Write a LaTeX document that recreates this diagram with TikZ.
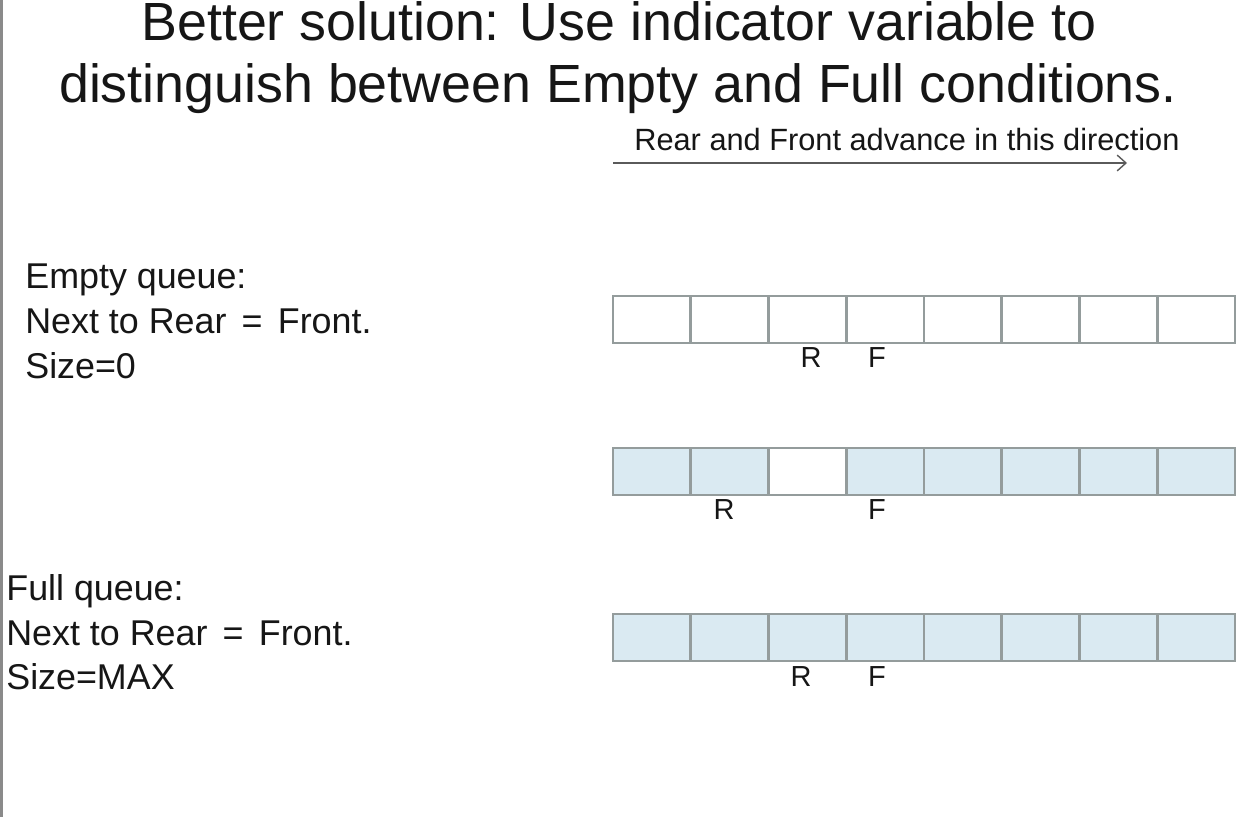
\documentclass[tikz,border=0pt]{standalone}
\usepackage{fontspec}
\setmainfont{Liberation Sans}
\usetikzlibrary{arrows.meta}

\definecolor{cellfill}{HTML}{DAEAF2}
\definecolor{cellline}{HTML}{949C9C}
\definecolor{textdark}{HTML}{161616}
\definecolor{arrowgray}{HTML}{5A5A5A}
\definecolor{edgegray}{HTML}{8A8A8A}

\begin{document}
\begin{tikzpicture}[x=0.02cm, y=-0.02cm]
    \useasboundingbox[fill=white] (0, 0) rectangle (1237, 817);
    \draw[edgegray, line width=1.6pt] (1.5, 0) -- (1.5, 817);
    \begin{scope}[cell/.style={draw=cellline, line width=1.6pt, minimum width=1.555cm, minimum height=0.94cm, inner sep=0, outer sep=0},
                  head/.style={anchor=base, inner sep=0, text=textdark, font=\fontsize{30.6}{36}\selectfont},
                  txt/.style={anchor=base west, inner sep=0, text=textdark, font=\fontsize{20.4}{24}\selectfont},
                  lbl/.style={inner sep=0, text=textdark, font=\fontsize{16.5}{19}\selectfont}]
        % title
        \node[head] (title1) at (619, 41) {Better solution: Use indicator variable to};
        \node[head] (title2) at (618, 103) {distinguish between Empty and Full conditions.};
        \node[anchor=base west, inner sep=0, text=textdark, font=\fontsize{17.5}{21}\selectfont] (dir) at (634, 151) {Rear and Front advance in this direction};
        \coordinate (d0) at (613, 163);
        \coordinate (d1) at (1127, 163);
        \draw[arrowgray, line width=0.8pt, -{Straight Barb[length=5pt, width=9pt]}] (d0) -- (d1);
        % empty queue
        \node[txt] (e1) at (25, 289) {Empty queue:};
        \node[txt] (e2) at (25, 334) {Next to Rear\hspace{3pt} = \hspace{3pt}Front.};
        \node[txt] (e3) at (25, 378) {Size=0};
        \node[cell, fill=white] (a1) at (651.9, 319.5) {};
        \node[cell, fill=white] (a2) at (729.6, 319.5) {};
        \node[cell, fill=white] (a3) at (807.4, 319.5) {};
        \node[cell, fill=white] (a4) at (885.1, 319.5) {};
        \node[cell, fill=white] (a5) at (962.9, 319.5) {};
        \node[cell, fill=white] (a6) at (1040.6, 319.5) {};
        \node[cell, fill=white] (a7) at (1118.4, 319.5) {};
        \node[cell, fill=white] (a8) at (1196.1, 319.5) {};
        \node[lbl] (ar) at (811, 358) {R};
        \node[lbl] (af) at (877, 358) {F};
        % one slot left
        \node[cell, fill=cellfill] (b1) at (651.9, 471.5) {};
        \node[cell, fill=cellfill] (b2) at (729.6, 471.5) {};
        \node[cell, fill=white] (b3) at (807.4, 471.5) {};
        \node[cell, fill=cellfill] (b4) at (885.1, 471.5) {};
        \node[cell, fill=cellfill] (b5) at (962.9, 471.5) {};
        \node[cell, fill=cellfill] (b6) at (1040.6, 471.5) {};
        \node[cell, fill=cellfill] (b7) at (1118.4, 471.5) {};
        \node[cell, fill=cellfill] (b8) at (1196.1, 471.5) {};
        \node[lbl] (br) at (724, 510) {R};
        \node[lbl] (bf) at (877, 510) {F};
        % full queue
        \node[txt] (f1) at (6, 600) {Full queue:};
        \node[txt] (f2) at (6, 645) {Next to Rear\hspace{3pt} = \hspace{3pt}Front.};
        \node[txt] (f3) at (6, 689) {Size=MAX};
        \node[cell, fill=cellfill] (c1) at (651.9, 637.5) {};
        \node[cell, fill=cellfill] (c2) at (729.6, 637.5) {};
        \node[cell, fill=cellfill] (c3) at (807.4, 637.5) {};
        \node[cell, fill=cellfill] (c4) at (885.1, 637.5) {};
        \node[cell, fill=cellfill] (c5) at (962.9, 637.5) {};
        \node[cell, fill=cellfill] (c6) at (1040.6, 637.5) {};
        \node[cell, fill=cellfill] (c7) at (1118.4, 637.5) {};
        \node[cell, fill=cellfill] (c8) at (1196.1, 637.5) {};
        \node[lbl] (cr) at (801, 677) {R};
        \node[lbl] (cf) at (877, 677) {F};
    \end{scope}
\end{tikzpicture}
\end{document}
